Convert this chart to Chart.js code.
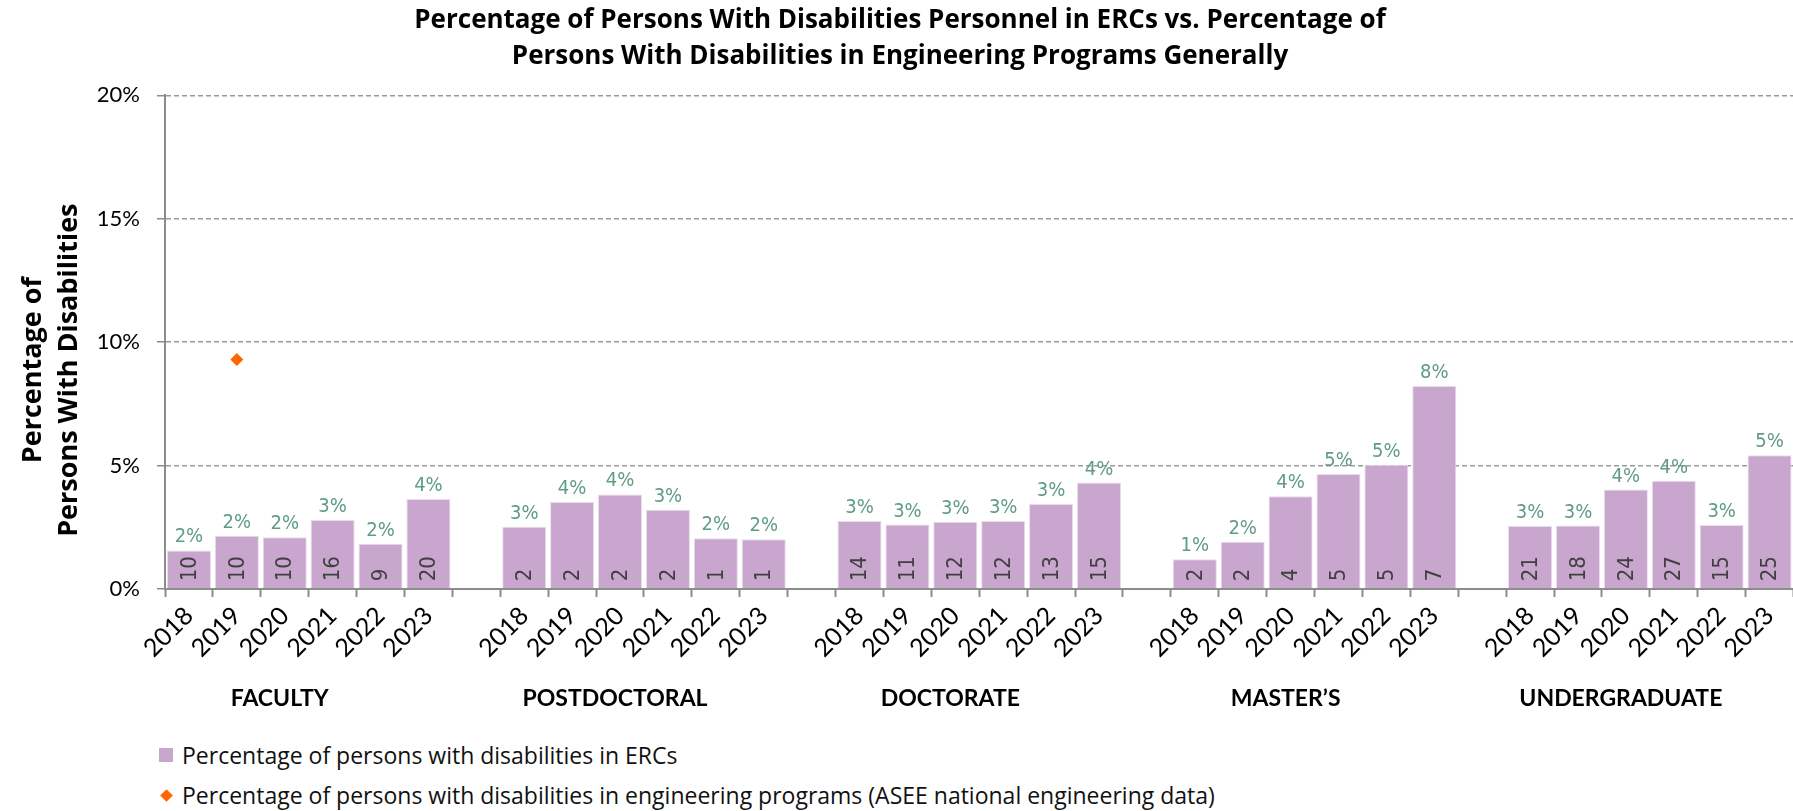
<!DOCTYPE html>
<html>
<head>
<meta charset="utf-8">
<title>Persons With Disabilities in ERCs</title>
<script src="https://cdn.jsdelivr.net/npm/chart.js@4.4.1/dist/chart.umd.min.js"></script>
<style>
  html, body { margin: 0; padding: 0; background: #fff; overflow: hidden; }
  #wrap { position: relative; width: 1793px; height: 811px; overflow: hidden; }
  #grafica { position: absolute; left: 0; top: 0; }
  .leyenda { position: absolute; left: 159px; height: 30px; display: flex; align-items: center;
             font-family: "Open Sans", sans-serif; font-size: 23px; color: #111; white-space: nowrap; }
  .cuadro { width: 14px; height: 14px; background: #c8a6ce; margin-right: 9px; }
  .rombo { width: 9px; height: 9px; background: #ff6600; transform: rotate(45deg); margin: 0 11px 0 3px; }
</style>
</head>
<body>
<div id="wrap">
  <canvas id="grafica" width="1800" height="730"></canvas>
  <div class="leyenda" style="top:740px"><span class="cuadro"></span>Percentage of persons with disabilities in ERCs</div>
  <div class="leyenda" style="top:780px"><span class="rombo"></span>Percentage of persons with disabilities in engineering programs (ASEE national engineering data)</div>
</div>
<script>
const years = ['2018', '2019', '2020', '2021', '2022', '2023'];
const groupNames = ['FACULTY', 'POSTDOCTORAL', 'DOCTORATE', 'MASTER\u2019S', 'UNDERGRADUATE'];

// % de personas con discapacidad en ERCs
const facultyPct = [1.56, 2.16, 2.10, 2.80, 1.83, 3.65];
const postdocPct = [2.52, 3.52, 3.83, 3.21, 2.06, 2.02];
const doctoratePct = [2.75, 2.61, 2.72, 2.75, 3.44, 4.31];
const mastersPct = [1.21, 1.91, 3.76, 4.66, 5.03, 8.22];
const undergradPct = [2.55, 2.57, 4.03, 4.39, 2.59, 5.42];

// numero de personas (etiqueta dentro de la barra)
const facultyCount = [10, 10, 10, 16, 9, 20];
const postdocCount = [2, 2, 2, 2, 1, 1];
const doctorateCount = [14, 11, 12, 12, 13, 15];
const mastersCount = [2, 2, 4, 5, 5, 7];
const undergradCount = [21, 18, 24, 27, 15, 25];

// dato nacional ASEE, solo hay un punto (Faculty 2019)
const aseeFaculty = [null, 9.3, null, null, null, null];

const yTicks = [0, 5, 10, 15, 20];

const pctByGroup = [facultyPct, postdocPct, doctoratePct, mastersPct, undergradPct];
const countByGroup = [facultyCount, postdocCount, doctorateCount, mastersCount, undergradCount];

// Armar las categorias con un hueco vacio entre grupos
const labels = [];
const pctData = [];
const countData = [];
const aseeData = [];
const groupStart = [];
groupNames.forEach((g, gi) => {
    if (gi > 0) {
        labels.push('');
        pctData.push(null);
        countData.push(null);
        aseeData.push(null);
    }
    groupStart.push(labels.length);
    years.forEach((y, yi) => {
        labels.push(y);
        pctData.push(pctByGroup[gi][yi]);
        countData.push(countByGroup[gi][yi]);
        aseeData.push(gi === 0 ? aseeFaculty[yi] : null);
    });
});

const gris = '#8c8c8c';
const fuenteEstrecha = '"Liberation Sans Narrow", "DejaVu Sans Condensed", sans-serif';

// Etiquetas de las barras, nombres de grupo y titulo del eje Y
const etiquetasPlugin = {
    id: 'etiquetas',
    afterDatasetsDraw(chart) {
        const ctx = chart.ctx;
        const meta = chart.getDatasetMeta(1); // barras
        ctx.save();
        meta.data.forEach((bar, i) => {
            const v = pctData[i];
            if (v == null) return;
            // porcentaje arriba
            ctx.fillStyle = '#5f9b87';
            ctx.font = '20px ' + fuenteEstrecha;
            ctx.textAlign = 'center';
            ctx.textBaseline = 'alphabetic';
            ctx.fillText(Math.round(v) + '%', bar.x, bar.y - 8);
            // cantidad dentro, girada
            ctx.save();
            ctx.translate(bar.x, bar.base - 7);
            ctx.rotate(-Math.PI / 2);
            ctx.fillStyle = '#404040';
            ctx.font = '22px ' + fuenteEstrecha;
            ctx.textAlign = 'left';
            ctx.textBaseline = 'middle';
            ctx.fillText(String(countData[i]), 0, 1);
            ctx.restore();
        });
        ctx.restore();
    },
    afterDraw(chart) {
        const ctx = chart.ctx;
        const x = chart.scales.x;
        const area = chart.chartArea;
        ctx.save();
        ctx.fillStyle = '#000';
        ctx.font = 'bold 23px Lato, sans-serif';
        ctx.textAlign = 'center';
        ctx.textBaseline = 'middle';
        groupNames.forEach((g, gi) => {
            ctx.fillText(g, x.getPixelForValue(groupStart[gi] + 2) - 5, area.bottom + 110);
        });
        // titulo del eje Y
        const yc = (area.top + area.bottom) / 2 + 28;
        ctx.font = 'bold 27px "Open Sans", sans-serif';
        ctx.translate(0, yc);
        ctx.rotate(-Math.PI / 2);
        ctx.fillText('Percentage of', 0, 33);
        ctx.fillText('Persons With Disabilities', 0, 69);
        ctx.restore();
    }
};

const ctx = document.getElementById('grafica').getContext('2d');
const grafica = new Chart(ctx, {
    type: 'bar',
    data: {
        labels: labels,
        datasets: [
            {
                type: 'line',
                label: 'Percentage of persons with disabilities in engineering programs (ASEE national engineering data)',
                data: aseeData,
                showLine: false,
                pointStyle: 'rectRot',
                pointRadius: 6.5,
                pointBackgroundColor: '#ff6600',
                pointBorderWidth: 0,
                order: 0,
            },
            {
                label: 'Percentage of persons with disabilities in ERCs',
                data: pctData,
                backgroundColor: '#c8a6ce',
                borderColor: '#eadcec',
                borderWidth: 1,
                barPercentage: 0.92,
                categoryPercentage: 1.0,
                order: 1,
            },
        ],
    },
    options: {
        responsive: false,
        animation: false,
        devicePixelRatio: 1,
        layout: { padding: { left: 0, right: 0, top: 0, bottom: 0 } },
        plugins: {
            legend: { display: false },
            tooltip: { enabled: false },
            title: {
                display: true,
                text: ['Percentage of Persons With Disabilities Personnel in ERCs vs. Percentage of',
                       'Persons With Disabilities in Engineering Programs Generally'],
                color: '#000',
                font: { family: 'Open Sans', size: 26, weight: 'bold', lineHeight: 1.41 },
                padding: { top: 2, bottom: 20 },
            },
        },
        scales: {
            x: {
                type: 'category',
                offset: true,
                grid: {
                    offset: true,
                    drawOnChartArea: false,
                    drawTicks: true,
                    tickLength: 8,
                    tickWidth: 2,
                    tickColor: gris,
                },
                border: { display: true, color: gris, width: 2 },
                ticks: {
                    autoSkip: false,
                    minRotation: 45,
                    maxRotation: 45,
                    padding: 4,
                    color: '#000',
                    font: { family: 'Lato', size: 25 },
                },
                afterFit(s) {
                    s.height = 141;
                    s.paddingLeft = 0;
                    s.paddingRight = 0;
                },
            },
            y: {
                min: 0,
                max: 20,
                afterBuildTicks(s) {
                    s.ticks = yTicks.map(v => ({ value: v }));
                },
                grid: {
                    color: c => (c.tick && c.tick.value === 0 ? 'rgba(0,0,0,0)' : '#999999'),
                    lineWidth: 1.5,
                    tickLength: 8,
                    tickColor: gris,
                    tickWidth: 1.5,
                    tickBorderDash: [],
                },
                border: { display: true, color: gris, width: 2, dash: [5, 3] },
                ticks: {
                    padding: 17,
                    color: '#000',
                    font: { family: 'Lato', size: 22 },
                    callback: v => v + '%',
                },
                afterFit(s) {
                    s.width = 165;
                },
            },
        },
    },
    plugins: [etiquetasPlugin],
});
</script>
</body>
</html>
